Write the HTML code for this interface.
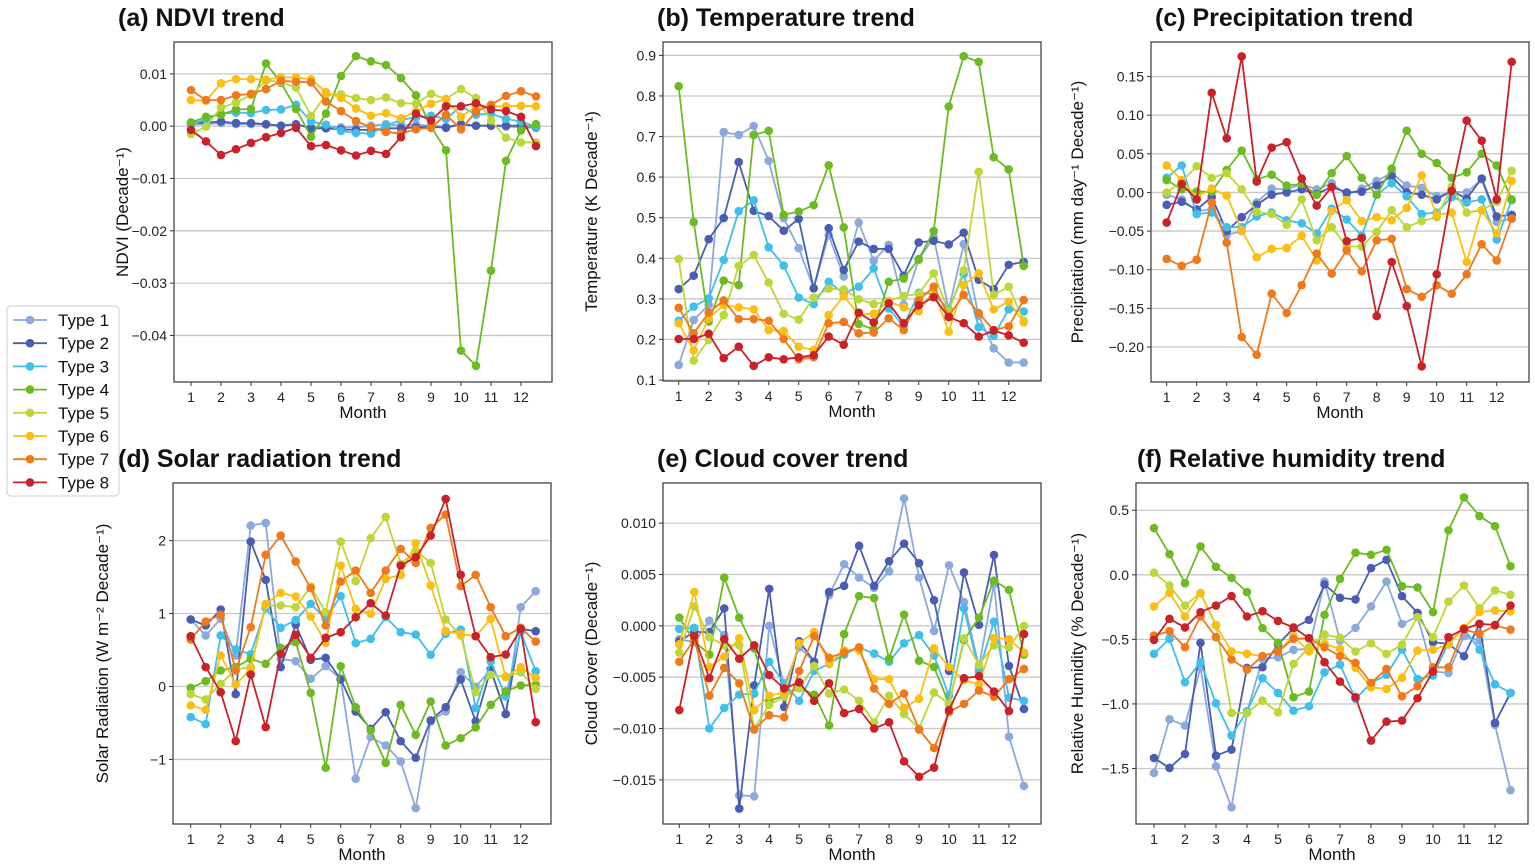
<!DOCTYPE html>
<html><head><meta charset="utf-8"><style>
html,body{margin:0;padding:0;background:#fff;}
svg{display:block;font-family:"Liberation Sans",sans-serif;}
</style></head><body>
<svg id="chart" width="1535" height="865" viewBox="0 0 1535 865" xmlns="http://www.w3.org/2000/svg"></svg>
<script>
const months = [1,1.5,2,2.5,3,3.5,4,4.5,5,5.5,6,6.5,7,7.5,8,8.5,9,9.5,10,10.5,11,11.5,12,12.5];
const monthTicks = [1,2,3,4,5,6,7,8,9,10,11,12];
const typeNames = ["Type 1","Type 2","Type 3","Type 4","Type 5","Type 6","Type 7","Type 8"];

const ndviTicks = [0.01,0,-0.01,-0.02,-0.03,-0.04];
const ndviTickLabels = ["0.01","0.00","\u22120.01","\u22120.02","\u22120.03","\u22120.04"];
const ndviSeries = [
[0.0003,0.0004,0.0006,0.0004,0.0004,0.0003,0.0001,0.0003,-0.0002,-0.0001,-0.0002,-0.0002,0.0001,0.0004,0.0001,0.0003,0.0001,-0.0001,0.0003,0.0001,0.0001,-0.0001,-0.0002,-0.0003],
[0.0007,0.0007,0.0009,0.0006,0.0006,0.0004,0.0001,0.0004,-0.0004,-0.0004,-0.0006,-0.0007,-0.0007,-0.0004,-0.0004,-0.0002,-0.0001,-0.0003,0.0004,0.0001,0.0001,0.0001,0.0001,-0.0002],
[0.0004,0.0013,0.0024,0.0026,0.0025,0.0031,0.0032,0.0041,0.0009,0.0003,-0.0009,-0.0013,-0.0014,0.0001,0.0012,0.0017,0.0020,0.0014,0.0038,0.0022,0.0024,0.0014,0.0009,-0.0001],
[0.0007,0.0018,0.0022,0.0032,0.0033,0.0120,0.0083,0.0033,-0.0020,0.0024,0.0096,0.0134,0.0124,0.0117,0.0092,0.0059,-0.0001,-0.0046,-0.0429,-0.0458,-0.0276,-0.0066,-0.0008,0.0004],
[-0.0015,-0.0001,0.0036,0.0045,0.0060,0.0087,0.0085,0.0074,0.0020,0.0060,0.0061,0.0054,0.0050,0.0055,0.0044,0.0043,0.0062,0.0052,0.0071,0.0054,0.0011,-0.0022,-0.0031,-0.0031],
[0.0050,0.0049,0.0082,0.0090,0.0090,0.0089,0.0094,0.0093,0.0090,0.0065,0.0054,0.0034,0.0020,0.0025,0.0015,0.0028,0.0043,0.0052,0.0018,0.0038,0.0038,0.0038,0.0039,0.0038],
[0.0069,0.0050,0.0050,0.0059,0.0062,0.0071,0.0087,0.0085,0.0084,0.0047,0.0029,0.0010,-0.0002,-0.0011,-0.0014,-0.0006,-0.0003,0.0022,-0.0006,0.0028,0.0041,0.0058,0.0067,0.0057],
[-0.0007,-0.0029,-0.0055,-0.0044,-0.0032,-0.0021,-0.0013,-0.0003,-0.0038,-0.0036,-0.0046,-0.0056,-0.0047,-0.0053,-0.0021,0.0024,0.0011,0.0038,0.0038,0.0044,0.0032,0.0029,0.0018,-0.0038]
];

const tempTicks = [0.1,0.2,0.3,0.4,0.5,0.6,0.7,0.8,0.9];
const tempTickLabels = ["0.1","0.2","0.3","0.4","0.5","0.6","0.7","0.8","0.9"];
const tempSeries = [
[0.137,0.248,0.285,0.711,0.704,0.726,0.640,0.499,0.425,0.326,0.457,0.355,0.488,0.394,0.433,0.285,0.396,0.452,0.273,0.435,0.258,0.178,0.143,0.143],
[0.324,0.357,0.447,0.499,0.637,0.517,0.504,0.468,0.497,0.326,0.474,0.371,0.441,0.423,0.423,0.357,0.439,0.443,0.434,0.463,0.347,0.324,0.384,0.391],
[0.246,0.281,0.301,0.396,0.516,0.543,0.427,0.382,0.303,0.287,0.342,0.313,0.330,0.375,0.276,0.233,0.315,0.312,0.274,0.361,0.230,0.209,0.274,0.269],
[0.824,0.489,0.244,0.345,0.334,0.704,0.714,0.507,0.515,0.531,0.629,0.476,0.238,0.225,0.342,0.350,0.398,0.467,0.774,0.898,0.884,0.649,0.619,0.381],
[0.398,0.148,0.199,0.260,0.381,0.408,0.340,0.263,0.249,0.303,0.325,0.323,0.299,0.287,0.295,0.307,0.312,0.363,0.269,0.370,0.613,0.310,0.330,0.246],
[0.240,0.173,0.252,0.285,0.279,0.274,0.223,0.221,0.182,0.174,0.260,0.307,0.262,0.263,0.294,0.279,0.269,0.320,0.219,0.334,0.363,0.274,0.293,0.242],
[0.278,0.215,0.266,0.296,0.250,0.250,0.246,0.201,0.151,0.156,0.240,0.243,0.215,0.217,0.252,0.223,0.296,0.330,0.258,0.310,0.265,0.223,0.232,0.297],
[0.201,0.201,0.214,0.154,0.182,0.135,0.156,0.151,0.156,0.161,0.207,0.187,0.266,0.242,0.289,0.240,0.284,0.304,0.255,0.240,0.207,0.222,0.210,0.192]
];

const precTicks = [0.15,0.10,0.05,0,-0.05,-0.10,-0.15,-0.20];
const precTickLabels = ["0.15","0.10","0.05","0.00","\u22120.05","\u22120.10","\u22120.15","\u22120.20"];
const precSeries = [
[-0.003,-0.009,-0.024,-0.022,-0.055,-0.050,-0.013,0.005,0.004,0.011,0.004,0.012,-0.003,0.005,0.015,0.025,0.009,0.006,-0.005,0.001,0.000,0.017,-0.038,-0.034],
[-0.016,-0.012,-0.022,-0.006,-0.050,-0.032,-0.016,-0.003,0.000,0.004,-0.002,0.007,0.000,0.001,0.009,0.021,0.000,-0.003,-0.009,0.002,-0.008,0.018,-0.031,-0.029],
[0.019,0.035,-0.028,-0.026,-0.045,-0.045,-0.031,-0.026,-0.036,-0.040,-0.053,-0.021,-0.035,-0.056,-0.003,0.012,-0.005,-0.028,-0.026,-0.006,-0.013,-0.009,-0.061,-0.010],
[0.016,0.004,0.001,0.001,0.029,0.054,0.017,0.023,0.009,0.011,-0.003,0.025,0.047,0.019,-0.003,0.031,0.080,0.050,0.038,0.019,0.026,0.050,0.035,-0.009],
[0.000,0.014,0.034,0.019,0.025,0.004,-0.025,-0.028,-0.042,-0.009,-0.062,-0.045,-0.070,-0.070,-0.051,-0.023,-0.045,-0.037,-0.032,0.007,-0.026,-0.023,-0.012,0.028],
[0.035,0.016,-0.006,0.005,-0.004,-0.049,-0.084,-0.073,-0.072,-0.056,-0.088,-0.024,-0.010,-0.037,-0.032,-0.036,-0.020,0.022,-0.029,-0.026,-0.090,-0.023,-0.053,0.015],
[-0.086,-0.095,-0.087,-0.013,-0.065,-0.187,-0.210,-0.131,-0.156,-0.120,-0.079,-0.105,-0.075,-0.102,-0.062,-0.060,-0.125,-0.135,-0.120,-0.131,-0.106,-0.067,-0.088,-0.034],
[-0.039,0.011,-0.009,0.129,0.070,0.176,0.014,0.058,0.065,0.018,-0.017,0.007,-0.063,-0.059,-0.160,-0.090,-0.147,-0.225,-0.106,0.002,0.093,0.067,-0.009,0.169]
];

const solarTicks = [2,1,0,-1];
const solarTickLabels = ["2","1","0","\u22121"];
const solarSeries = [
[0.918,0.699,0.927,0.425,2.205,2.242,0.379,0.347,0.105,0.279,0.105,-1.265,-0.694,-0.808,-1.027,-1.667,-0.479,-0.342,0.196,-0.005,0.233,-0.374,1.087,1.306],
[0.918,0.836,1.055,-0.105,1.986,1.461,0.265,0.849,0.365,0.393,0.096,-0.342,-0.580,-0.352,-0.749,-0.977,-0.466,-0.283,0.096,-0.479,0.233,-0.379,0.790,0.758],
[-0.420,-0.516,0.699,0.507,0.443,1.073,0.804,0.913,1.132,0.927,1.237,0.594,0.653,0.950,0.744,0.712,0.434,0.721,0.781,-0.297,0.342,-0.137,0.744,0.210],
[-0.018,0.073,0.219,0.265,0.379,0.311,0.530,0.607,-0.087,-1.114,0.279,-0.283,-0.603,-1.046,-0.251,-0.662,-0.205,-0.808,-0.708,-0.562,-0.251,-0.068,0.014,0.027],
[-0.105,-0.178,0.037,0.233,0.265,1.110,1.110,1.087,1.370,1.018,1.986,1.443,2.032,2.324,1.680,1.863,1.694,0.918,0.699,-0.078,0.160,0.137,0.196,-0.032],
[-0.260,-0.320,0.425,0.027,0.242,1.132,1.283,1.233,0.959,0.598,1.658,1.064,0.995,1.475,1.530,1.963,1.384,0.758,0.721,0.689,0.927,0.128,0.265,0.119],
[0.644,0.890,0.982,0.219,0.813,1.804,2.068,1.712,1.347,0.836,1.438,1.589,1.283,1.589,1.886,1.694,2.174,2.356,1.374,1.530,1.087,0.689,0.804,0.616],
[0.689,0.265,-0.078,-0.749,0.164,-0.557,0.447,0.708,0.393,0.667,0.744,0.950,1.142,0.973,1.658,1.772,2.068,2.571,1.530,0.689,0.402,0.438,0.790,-0.489]
];

const cloudTicks = [0.010,0.005,0,-0.005,-0.010,-0.015];
const cloudTickLabels = ["0.010","0.005","0.000","\u22120.005","\u22120.010","\u22120.015"];
const cloudSeries = [
[-0.0013,-0.0016,0.0005,-0.0009,-0.0165,-0.0166,0.0000,-0.0058,-0.0021,-0.0035,0.0030,0.0060,0.0047,0.0037,0.0053,0.0124,0.0047,-0.0005,0.0059,0.0023,-0.0040,0.0041,-0.0108,-0.0156],
[-0.0015,-0.0006,-0.0006,0.0017,-0.0178,-0.0058,0.0036,-0.0079,-0.0015,-0.0035,0.0033,0.0039,0.0078,0.0039,0.0063,0.0080,0.0061,0.0025,-0.0044,0.0052,0.0001,0.0069,-0.0039,-0.0081],
[-0.0003,-0.0002,-0.0100,-0.0080,-0.0067,-0.0066,-0.0035,-0.0056,-0.0073,-0.0044,-0.0037,-0.0028,-0.0021,-0.0027,-0.0035,-0.0017,-0.0009,-0.0029,-0.0068,0.0017,-0.0044,0.0004,-0.0070,-0.0073],
[0.0008,-0.0015,-0.0028,0.0047,0.0008,-0.0022,-0.0073,-0.0068,-0.0060,-0.0067,-0.0097,-0.0008,0.0029,0.0027,-0.0032,0.0011,-0.0034,-0.0040,-0.0076,-0.0014,0.0008,0.0044,0.0035,-0.0028],
[-0.0026,0.0019,-0.0011,-0.0019,-0.0019,-0.0100,-0.0077,-0.0069,-0.0061,-0.0039,-0.0066,-0.0062,-0.0073,-0.0094,-0.0068,-0.0086,-0.0100,-0.0065,-0.0076,-0.0012,-0.0038,-0.0019,-0.0021,0.0000],
[-0.0018,0.0033,-0.0040,-0.0030,-0.0012,-0.0082,-0.0068,-0.0065,-0.0017,-0.0006,-0.0037,-0.0024,-0.0024,-0.0052,-0.0052,-0.0080,-0.0071,-0.0022,-0.0040,-0.0053,-0.0057,-0.0012,-0.0013,-0.0026],
[-0.0035,-0.0013,-0.0068,-0.0041,-0.0056,-0.0101,-0.0087,-0.0089,-0.0044,-0.0010,-0.0031,-0.0026,-0.0021,-0.0061,-0.0076,-0.0066,-0.0101,-0.0119,-0.0084,-0.0076,-0.0063,-0.0069,-0.0052,-0.0042],
[-0.0082,-0.0010,-0.0051,-0.0013,-0.0032,-0.0019,-0.0048,-0.0061,-0.0055,-0.0073,-0.0056,-0.0085,-0.0081,-0.0100,-0.0094,-0.0132,-0.0147,-0.0138,-0.0082,-0.0051,-0.0049,-0.0064,-0.0083,-0.0008]
];

const humTicks = [0.5,0,-0.5,-1.0,-1.5];
const humTickLabels = ["0.5","0.0","\u22120.5","\u22121.0","\u22121.5"];
const humSeries = [
[-1.535,-1.119,-1.168,-0.716,-1.483,-1.801,-1.065,-0.651,-0.638,-0.581,-0.574,-0.052,-0.509,-0.411,-0.245,-0.052,-0.380,-0.323,-0.749,-0.760,-0.475,-0.509,-1.163,-1.667],
[-1.419,-1.496,-1.388,-0.527,-1.401,-1.354,-0.721,-0.716,-0.540,-0.413,-0.349,-0.075,-0.178,-0.191,0.052,0.116,-0.165,-0.295,-0.522,-0.535,-0.630,-0.380,-1.147,-0.915],
[-0.612,-0.496,-0.832,-0.677,-0.995,-1.245,-1.057,-0.801,-0.915,-1.052,-1.018,-0.755,-0.695,-0.961,-0.837,-0.775,-0.579,-0.806,-0.780,-0.527,-0.419,-0.579,-0.848,-0.915],
[0.362,0.160,-0.065,0.220,0.062,-0.023,-0.134,-0.413,-0.527,-0.948,-0.904,-0.310,-0.031,0.171,0.155,0.194,-0.088,-0.098,-0.289,0.344,0.599,0.455,0.377,0.067],
[0.016,-0.083,-0.238,-0.142,-0.388,-1.070,-1.070,-0.974,-1.065,-0.690,-0.561,-0.463,-0.488,-0.594,-0.530,-0.613,-0.540,-0.328,-0.483,-0.207,-0.083,-0.258,-0.121,-0.155],
[-0.245,-0.140,-0.323,-0.142,-0.393,-0.592,-0.612,-0.630,-0.594,-0.475,-0.594,-0.535,-0.574,-0.721,-0.871,-0.884,-0.798,-0.587,-0.581,-0.540,-0.411,-0.289,-0.276,-0.284],
[-0.470,-0.437,-0.561,-0.323,-0.483,-0.656,-0.734,-0.630,-0.594,-0.496,-0.491,-0.561,-0.630,-0.682,-0.837,-0.729,-0.941,-0.863,-0.716,-0.716,-0.424,-0.457,-0.393,-0.424],
[-0.504,-0.341,-0.408,-0.289,-0.238,-0.165,-0.323,-0.282,-0.357,-0.408,-0.491,-0.677,-0.827,-0.948,-1.284,-1.137,-1.129,-0.956,-0.749,-0.483,-0.419,-0.380,-0.388,-0.238]
];

const colors = ["#8ba9dc","#4a5db1","#3fbfe9","#6cbb22","#bcd73a","#fbbe14","#f07a1b","#c92228"];
const NS = "http://www.w3.org/2000/svg";
const svg = document.getElementById("chart");
function mk(tag, attrs, parent){ const e=document.createElementNS(NS,tag); for(const k in attrs) e.setAttribute(k,attrs[k]); (parent||svg).appendChild(e); return e; }

const panels = [
 {key:"ndvi", title:"(a) NDVI trend", tx:118, ty:26, ylab:"NDVI (Decade\u207B\u00B9)", ylx:128, L:174,T:42,R:552,B:382, x1:191, dx:30, ymin:-0.0489, ymax:0.0161, ticks:ndviTicks, tl:ndviTickLabels, data:ndviSeries},
 {key:"temperature", title:"(b) Temperature trend", tx:657, ty:26, ylab:"Temperature (K Decade\u207B\u00B9)", ylx:597, L:663,T:42,R:1041,B:381, x1:678.7, dx:30, ymin:0.0975, ymax:0.933, ticks:tempTicks, tl:tempTickLabels, data:tempSeries},
 {key:"precipitation", title:"(c) Precipitation trend", tx:1155, ty:26, ylab:"Precipitation (mm day\u207B\u00B9 Decade\u207B\u00B9)", ylx:1083, L:1151,T:42,R:1529,B:382, x1:1166.7, dx:30, ymin:-0.2453, ymax:0.1947, ticks:precTicks, tl:precTickLabels, data:precSeries},
 {key:"solar", title:"(d) Solar radiation trend", tx:118, ty:467, ylab:"Solar Radiation (W m\u207B\u00B2 Decade\u207B\u00B9)", ylx:108, L:173,T:483,R:551,B:824, x1:190.7, dx:30, ymin:-1.885, ymax:2.789, ticks:solarTicks, tl:solarTickLabels, data:solarSeries},
 {key:"cloud", title:"(e) Cloud cover trend", tx:657, ty:467, ylab:"Cloud Cover (Decade\u207B\u00B9)", ylx:597, L:663,T:483,R:1041,B:824, x1:679.3, dx:29.97, ymin:-0.0193, ymax:0.01391, ticks:cloudTicks, tl:cloudTickLabels, data:cloudSeries},
 {key:"humidity", title:"(f) Relative humidity trend", tx:1137, ty:467, ylab:"Relative Humidity (% Decade\u207B\u00B9)", ylx:1083, L:1136,T:483,R:1528,B:824, x1:1154, dx:31, ymin:-1.930, ymax:0.711, ticks:humTicks, tl:humTickLabels, data:humSeries}
];

panels.forEach(p=>{
  const g = mk("g",{});
  
  
  const xs = m => p.x1 + (m-1)*p.dx;
  const ys = v => p.B - (v-p.ymin)/(p.ymax-p.ymin)*(p.B-p.T);
  const t = mk("text",{x:p.tx,y:p.ty,"font-size":"25","font-weight":"bold",fill:"#111"},g);
  t.textContent = p.title;
  
  
  p.ticks.forEach((v,i)=>{
    const y = ys(v);
    const gl = mk("line",{x1:p.L,x2:p.R,y1:y,y2:y,stroke:"#c8c8c8","stroke-width":"1.3"},g);
    
    
    mk("line",{x1:p.L-4,x2:p.L,y1:y,y2:y,stroke:"#333","stroke-width":"1"},g);
    const tl = mk("text",{x:p.L-7,y:y+5,"font-size":"14","text-anchor":"end",fill:"#222"},g);
    tl.textContent = p.tl[i];
    
    
  });
  monthTicks.forEach(m=>{
    const x = xs(m);
    mk("line",{x1:x,x2:x,y1:p.B,y2:p.B+4,stroke:"#333","stroke-width":"1"},g);
    const tl = mk("text",{x:x,y:p.B+20,"font-size":"14","text-anchor":"middle",fill:"#222"},g);
    tl.textContent = String(m);
    
    
  });
  const xl = mk("text",{x:(p.L+p.R)/2,y:p.B+36,"font-size":"17","text-anchor":"middle",fill:"#111"},g);
  xl.textContent = "Month";
  
  
  const cy = (p.T+p.B)/2;
  const yl = mk("text",{x:p.ylx,y:cy,"font-size":"17","text-anchor":"middle",fill:"#111",transform:"rotate(-90 "+p.ylx+" "+cy+")"},g);
  yl.textContent = p.ylab;
  
  
  p.data.forEach((series,si)=>{
    const sg = mk("g",{},g);
    
    
    const pts = series.map((v,i)=>xs(months[i]).toFixed(1)+","+ys(v).toFixed(1)).join(" ");
    const pl = mk("polyline",{points:pts,fill:"none",stroke:colors[si],"stroke-width":"1.8","stroke-linejoin":"round"},sg);
    
    
    series.forEach((v,i)=>{
      const c = mk("circle",{cx:xs(months[i]),cy:ys(v),r:4.3,fill:colors[si]},sg);
      
      
    });
  });
  const fr = mk("rect",{x:p.L,y:p.T,width:p.R-p.L,height:p.B-p.T,fill:"none",stroke:"#444","stroke-width":"1.3"},g);
  
  
});

const lg = mk("g",{});


const lr = mk("rect",{x:7,y:306,width:112,height:190,rx:4,fill:"#fff",stroke:"#ccc","stroke-width":"1"},lg);


typeNames.forEach((n,i)=>{
  const y = 320 + i*23.2;
  const eg = mk("g",{},lg);
  
  
  mk("line",{x1:13,x2:47,y1:y,y2:y,stroke:colors[i],"stroke-width":"1.8"},eg);
  mk("circle",{cx:30,cy:y,r:4.3,fill:colors[i]},eg);
  const t = mk("text",{x:58,y:y+6,"font-size":"17",fill:"#111"},eg);
  t.textContent = n;
});
</script>
</body></html>
